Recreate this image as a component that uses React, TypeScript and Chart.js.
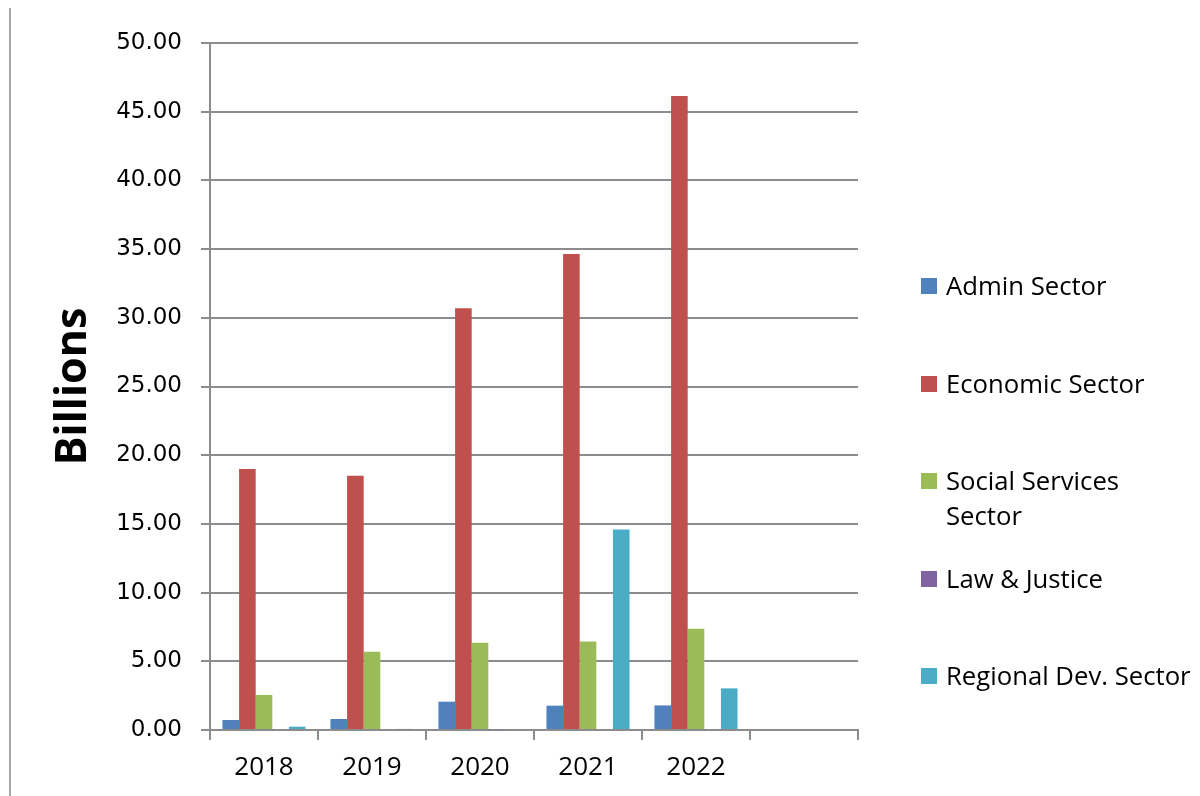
import React, { useEffect, useRef } from "react";
import { Chart, registerables } from "chart.js";

Chart.register(...registerables);

const categories = ["2018", "2019", "2020", "2021", "2022", ""];
const seriesNames = [
  "Admin Sector",
  "Economic Sector",
  "Social Services Sector",
  "Law & Justice",
  "Regional Dev. Sector",
];
const adminValues = [0.73, 0.8, 2.06, 1.77, 1.79, 0];
const economicValues = [19.0, 18.5, 30.7, 34.65, 46.15, 0];
const socialValues = [2.55, 5.7, 6.35, 6.45, 7.37, 0];
const lawValues = [0, 0, 0.05, 0, 0, 0];
const regionalValues = [0.24, 0.08, 0, 14.6, 3.03, 0];
const seriesColors = ["#4F81BD", "#C0504D", "#9BBB59", "#8064A2", "#4BACC6"];
const yTicks = [0, 5, 10, 15, 20, 25, 30, 35, 40, 45, 50];

export default function App() {
  const canvasRef = useRef<HTMLCanvasElement | null>(null);

  useEffect(() => {
    const canvas = canvasRef.current;
    if (!canvas) return;
    const values = [adminValues, economicValues, socialValues, lawValues, regionalValues];
    const chart = new Chart(canvas, {
      type: "bar",
      data: {
        labels: categories,
        datasets: seriesNames.map((name, i) => ({
          label: name,
          data: values[i],
          backgroundColor: seriesColors[i],
          borderWidth: 0,
          categoryPercentage: 5 / 6.5,
          barPercentage: 1,
        })),
      },
      options: {
        animation: false,
        responsive: false,
        devicePixelRatio: 1,
        layout: { padding: { top: 43, bottom: 0, left: 10, right: 342 } },
        plugins: { legend: { display: false }, tooltip: { enabled: false } },
        scales: {
          x: {
            offset: true,
            grid: {
              offset: true,
              drawOnChartArea: false,
              drawTicks: true,
              tickLength: 10,
              color: "#8c8c8c",
              lineWidth: 2,
            },
            border: { color: "#8c8c8c", width: 2 },
            ticks: {
              color: "#000",
              font: { family: "'Open Sans'", size: 26 },
              padding: 12,
              maxRotation: 0,
            },
            afterFit: (axis: any) => {
              axis.height = 66;
            },
          },
          y: {
            min: 0,
            max: 50,
            afterBuildTicks: (axis: any) => {
              axis.ticks = yTicks.map((v) => ({ value: v }));
            },
            grid: {
              color: "#8c8c8c",
              lineWidth: 2,
              drawTicks: true,
              tickLength: 9,
            },
            border: { color: "#8c8c8c", width: 2 },
            ticks: {
              color: "#000",
              font: { family: "'DejaVu Sans'", size: 23 },
              padding: 19,
              callback: (v: any) => Number(v).toFixed(2),
            },
            title: {
              display: true,
              text: "Billions",
              color: "#000",
              font: { family: "'Open Sans'", size: 43, weight: "bold" },
              padding: { top: 38, bottom: 0 },
            },
            afterFit: (axis: any) => {
              axis.width = 200;
            },
          },
        },
      },
    });
    return () => chart.destroy();
  }, []);

  return (
    <div style={{ position: "absolute", left: 0, top: 0, width: 1200, height: 796, background: "#fff" }}>
      <div
        style={{
          position: "absolute",
          left: 9,
          top: 8,
          width: 0,
          height: 788,
          borderLeft: "2px solid #a6a6a6",
        }}
      />
      <canvas ref={canvasRef} width={1200} height={796} style={{ position: "absolute", left: 0, top: 0 }} />
      <div style={{ position: "absolute", left: 921, top: 268, width: 275 }}>
        {seriesNames.map((name, i) => (
          <div key={name} style={{ position: "relative", height: 97.5 }}>
            <div
              style={{
                position: "absolute",
                left: 0,
                top: 10,
                width: 16,
                height: 16,
                background: seriesColors[i],
              }}
            />
            <div
              style={{
                position: "absolute",
                left: 25,
                top: 0,
                width: 249,
                fontFamily: "'Open Sans'",
                fontSize: 25.7,
                lineHeight: "35px",
                color: "#000",
              }}
            >
              {name}
            </div>
          </div>
        ))}
      </div>
    </div>
  );
}
